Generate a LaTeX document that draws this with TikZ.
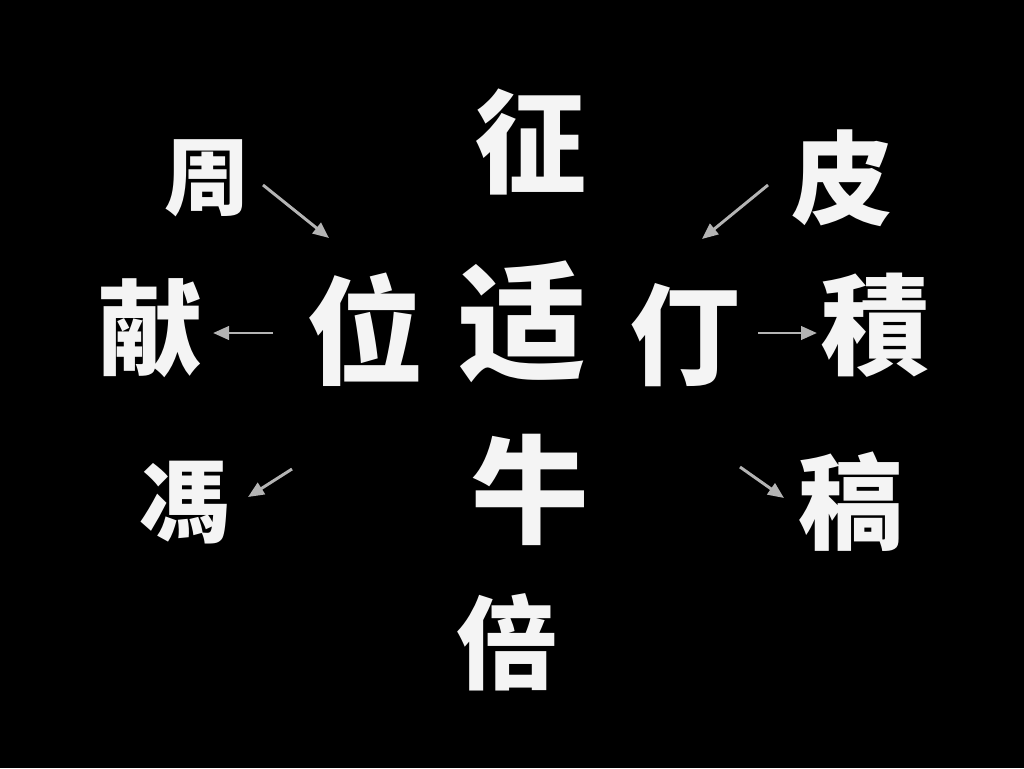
\documentclass[tikz,border=0pt]{standalone}
\usepackage{fontspec}
\newfontfamily\cjk{Noto Sans CJK SC}
\usetikzlibrary{arrows.meta}
\definecolor{arrowgray}{HTML}{B4B4B4}
\definecolor{inkwhite}{HTML}{F4F4F4}
\tikzset{
  ch/.style={text=inkwhite, inner sep=0pt, font=\cjk\bfseries},
  conn/.style={draw=arrowgray, line width=2.2pt, -{Triangle[length=12pt,width=10pt]}}
}
\newcommand{\fs}[1]{\fontsize{#1}{#1}\selectfont}
\begin{document}
\begin{tikzpicture}[x=0.75pt,y=-0.75pt]
\fill[black] (0,0) rectangle (1024,768);
\useasboundingbox (0,0) rectangle (1024,768);
% characters
\node[ch] (tl) at (207,178) {\fs{64pt}周};
\node[ch] (tc) at (530,142) {\fs{84pt}征};
\node[ch] (tr) at (842,178) {\fs{76pt}皮};
\node[ch] (l)  at (150,328) {\fs{78pt}献};
\node[ch] (cl) at (365,330) {\fs{88pt}位};
\node[ch] (c)  at (522,322) {\fs{96pt}适};
\node[ch] (cr) at (685,335) {\fs{82pt}仃};
\node[ch] (r)  at (875,325) {\fs{82pt}積};
\node[ch] (bl) at (185,503) {\fs{68pt}馮};
\node[ch] (br) at (850,502) {\fs{78pt}稿};
\node[ch] (cb) at (530,490) {\fs{88pt}牛};
\node[ch] (b)  at (507,642) {\fs{76pt}倍};
% arrow end points
\coordinate (a1s) at (263,185); \coordinate (a1e) at (329,238);
\coordinate (a2s) at (768,185); \coordinate (a2e) at (702,239);
\coordinate (a3s) at (273,333); \coordinate (a3e) at (213,333);
\coordinate (a4s) at (758,333); \coordinate (a4e) at (817,333);
\coordinate (a5s) at (292,469); \coordinate (a5e) at (248,497);
\coordinate (a6s) at (740,467); \coordinate (a6e) at (784,498);
\draw[conn] (a1s) -- (a1e);
\draw[conn] (a2s) -- (a2e);
\draw[conn] (a3s) -- (a3e);
\draw[conn] (a4s) -- (a4e);
\draw[conn] (a5s) -- (a5e);
\draw[conn] (a6s) -- (a6e);
\end{tikzpicture}
\end{document}
